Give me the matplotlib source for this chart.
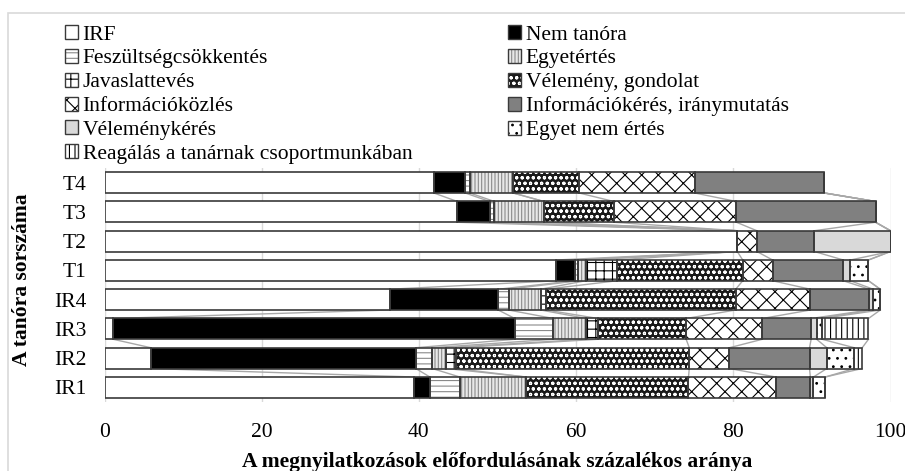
import matplotlib
matplotlib.use("Agg")
import matplotlib.pyplot as plt
import numpy as np
from matplotlib.patches import Patch, Rectangle

plt.rcParams['font.family'] = ['Liberation Serif', 'DejaVu Serif']
plt.rcParams['hatch.linewidth'] = 0.8

categories = ["T4", "T3", "T2", "T1", "IR4", "IR3", "IR2", "IR1"]

series_names = [
    "IRF", "Nem tanóra", "Feszültségcsökkentés", "Egyetértés", "Javaslattevés",
    "Vélemény, gondolat", "Információközlés", "Információkérés, iránymutatás",
    "Véleménykérés", "Egyet nem értés", "Reagálás a tanárnak csoportmunkában",
]

irf            = [41.9, 44.9, 80.5, 57.5, 36.3,  1.1,  5.9, 39.4]
nem_tanora     = [ 4.0,  4.1,  0.0,  2.3, 13.8, 51.1, 33.7,  2.0]
feszultseg     = [ 0.6,  0.6,  0.0,  0.5,  1.3,  4.9,  2.1,  3.8]
egyetertes     = [ 5.5,  6.3,  0.0,  0.9,  4.1,  4.2,  1.8,  8.4]
javaslat       = [ 0.0,  0.0,  0.0,  4.0,  0.7,  1.5,  1.2,  0.0]
velemeny       = [ 8.4,  8.9,  0.0, 16.0, 24.1, 11.2, 29.7, 20.7]
infokozles     = [14.7, 15.6,  2.5,  3.8,  9.5,  9.7,  5.1, 11.1]
infokeres      = [16.5, 17.7,  7.3,  9.0,  7.5,  6.2, 10.2,  4.4]
velemenykeres  = [ 0.0,  0.0,  9.7,  0.9,  0.5,  0.7,  2.2,  0.4]
egyet_nem      = [ 0.0,  0.0,  0.0,  2.3,  0.9,  0.7,  3.5,  1.5]
reagalas       = [ 0.0,  0.0,  0.0,  0.0,  0.0,  5.9,  1.0,  0.0]

data = [irf, nem_tanora, feszultseg, egyetertes, javaslat, velemeny,
        infokozles, infokeres, velemenykeres, egyet_nem, reagalas]

# (facecolor, hatch, hatchcolor)
styles = [
    ("white", None, "white"),
    ("black", None, "black"),
    ("white", "---", "#8a8a8a"),
    ("#e8e8e8", "|||||", "#8a8a8a"),
    ("white", "++", "black"),
    ("#1a1a1a", "ooo", "white"),
    ("white", "xx", "black"),
    ("#808080", None, "#808080"),
    ("#d9d9d9", None, "#d9d9d9"),
    ("white", "..", "black"),
    ("white", "|||", "black"),
]

W, H = 905, 471
fig = plt.figure(figsize=(W / 100, H / 100), dpi=100)
ax = fig.add_axes([104.5 / W, 1 - 402 / H, 786 / W, (402 - 168) / H])

y = np.arange(len(categories))
bh = 0.71
edge = "#3a3a3a"

left = np.zeros(len(categories))
cum_ends = []
handles = []
for vals, (fc, hatch, hc) in zip(data, styles):
    vals = np.array(vals, dtype=float)
    ax.barh(y, vals, left=left, height=bh, color=fc, hatch=hatch,
            edgecolor=hc, linewidth=0, zorder=3)
    ax.barh(y, vals, left=left, height=bh, fill=False,
            edgecolor=edge, linewidth=1.2, zorder=4)
    left = left + vals
    cum_ends.append(left.copy())
    p1 = Patch(facecolor=fc, hatch=hatch, edgecolor=hc, linewidth=0)
    p2 = Patch(fill=False, edgecolor=edge, linewidth=1.0)
    handles.append((p1, p2))

# series lines between adjacent bars
for ends in cum_ends:
    for i in range(len(categories) - 1):
        ax.plot([ends[i], ends[i + 1]], [y[i] + bh / 2, y[i + 1] - bh / 2],
                color="#a8a8a8", lw=1.0, zorder=2)

ax.set_xlim(0, 100)
ax.set_ylim(len(categories) - 0.5, -0.5)
ax.set_yticks(y)
ax.set_yticklabels(categories, fontsize=15.5)
ax.set_xticks([0, 20, 40, 60, 80, 100])
ax.set_xticklabels(["0", "20", "40", "60", "80", "100"], fontsize=15.5)
ax.tick_params(axis="both", length=0)
ax.tick_params(axis="y", pad=13)
ax.tick_params(axis="x", pad=15)
for s in ax.spines.values():
    s.set_visible(False)
ax.xaxis.grid(True, color="#d9d9d9", lw=1.0, zorder=0)
ax.set_axisbelow(True)

fig.text(497.5 / W, 1 - 462 / H, "A megnyilatkozások előfordulásának százalékos aránya",
         ha="center", va="center", fontsize=15.5, fontweight="bold")
fig.text(22 / W, 1 - 280 / H, "A tanóra sorszáma", ha="center", va="center",
         rotation=90, fontsize=15.5, fontweight="bold")

col1 = [0, 2, 4, 6, 8, 10]
col2 = [1, 3, 5, 7, 9]
leg_kw = dict(loc="upper left", frameon=False, fontsize=15.5, borderpad=0,
              borderaxespad=0, handlelength=0.62, handleheight=0.62,
              handletextpad=0.2, labelspacing=0.2)
fig.legend([handles[i] for i in col1], [series_names[i] for i in col1],
           bbox_to_anchor=(65 / W, 1 - 25 / H), **leg_kw)
fig.legend([handles[i] for i in col2], [series_names[i] for i in col2],
           bbox_to_anchor=(508 / W, 1 - 25 / H), **leg_kw)

fig.patches.append(Rectangle((8 / W, -0.1), 1.2, 1 - 13 / H + 0.1,
                             transform=fig.transFigure, fill=False,
                             edgecolor="#d9d9d9", lw=1.2))

fig.savefig("out.png", dpi=100)
